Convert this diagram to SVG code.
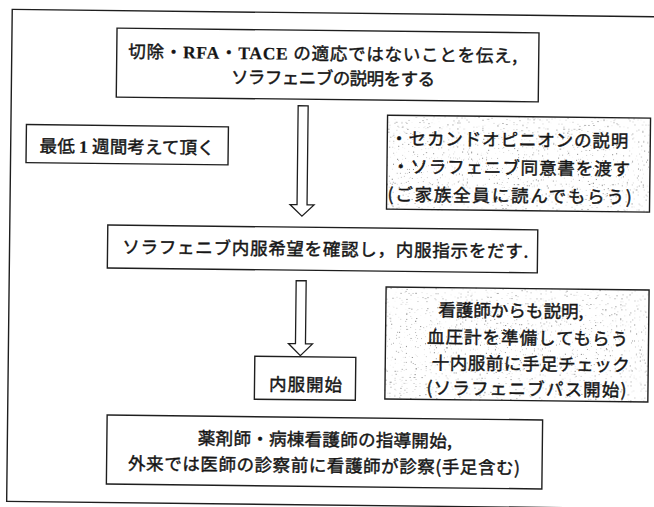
<svg xmlns="http://www.w3.org/2000/svg" width="654" height="507" viewBox="0 0 654 507">
<style>
 .box{fill:#fff;stroke:#1e1e1e;stroke-width:1.4}
 .shade{stroke:none}
 .sbox{fill:none;stroke:#1e1e1e;stroke-width:1.4}
 .frame{fill:none;stroke:#1e1e1e;stroke-width:1.4}
 .t{font-family:"Noto Sans CJK JP","Noto Sans CJK SC",sans-serif;font-size:17.5px;font-weight:normal;fill:#161616;stroke:#161616;stroke-width:0.45}
 .s{font-family:"Liberation Serif","Noto Sans CJK JP",serif;font-weight:bold;stroke-width:0.2}
 .arrow{fill:#fff;stroke:#1e1e1e;stroke-width:1.3;stroke-linejoin:miter}
</style>
<defs>
 <filter id="speckle" x="0" y="0" width="1" height="1" color-interpolation-filters="sRGB">
  <feTurbulence type="fractalNoise" baseFrequency="0.8" numOctaves="2" seed="7" result="n"/>
  <feColorMatrix in="n" type="matrix" values="0 0 0 0 0.5  0 0 0 0 0.5  0 0 0 0 0.5  9 0 0 0 -6.1" result="d"/>
  <feComposite in="d" in2="SourceGraphic" operator="over"/>
 </filter>
</defs>
<rect width="654" height="507" fill="#fff"/>
<g transform="rotate(0.65 327 253)">
 <rect class="frame" x="9.5" y="13" width="660" height="492"/>
 <g id="connectors">
  <path class="arrow" d="M296.5,106 H306.5 V205 H313.5 L301.5,216.5 L289.5,205 H296.5 Z"/>
  <path class="arrow" d="M296.5,281 H306.5 V344 H313.5 L301.5,356 L289.5,344 H296.5 Z"/>
 </g>
 <g id="n1">
  <rect class="box" x="114.5" y="30.5" width="422" height="69"/>
  <text class="t" x="126" y="60" textLength="389" lengthAdjust="spacing">切除・<tspan class="s">RFA</tspan>・<tspan class="s">TACE</tspan> の適応ではないことを伝え,</text>
  <text class="t" x="229" y="84.5" textLength="204" lengthAdjust="spacing">ソラフェニブの説明をする</text>
 </g>
 <g id="n2">
  <rect class="box" x="25" y="128" width="202" height="38"/>
  <text class="t" x="38.5" y="155.5" textLength="175" lengthAdjust="spacing">最低 <tspan class="s">1</tspan> 週間考えて頂く</text>
 </g>
 <g id="n3">
  <rect class="shade" x="386" y="114.5" width="263" height="94" fill="#fff" filter="url(#speckle)"/>
  <rect class="sbox" x="386" y="114.5" width="263" height="94"/>
  <text class="t" x="389" y="144" textLength="238" lengthAdjust="spacing">・セカンドオピニオンの説明</text>
  <text class="t" x="391" y="172" textLength="238" lengthAdjust="spacing">・ソラフェニブ同意書を渡す</text>
  <text class="t" x="387" y="200" textLength="244" lengthAdjust="spacing">(ご家族全員に読んでもらう)</text>
 </g>
 <g id="n4">
  <rect class="box" x="107.5" y="227.5" width="430" height="43"/>
  <text class="t" x="122.3" y="255.5" textLength="406" lengthAdjust="spacing">ソラフェニブ内服希望を確認し，内服指示をだす.</text>
 </g>
 <g id="n5">
  <rect class="box" x="256" y="357" width="101" height="43"/>
  <text class="t" x="270.6" y="391.2" textLength="73" lengthAdjust="spacing">内服開始</text>
 </g>
 <g id="n6">
  <rect class="shade" x="386.5" y="286.3" width="263" height="112" fill="#fff" filter="url(#speckle)"/>
  <rect class="sbox" x="386.5" y="286.3" width="263" height="112"/>
  <text class="t" x="439" y="315" textLength="145" lengthAdjust="spacing">看護師からも説明,</text>
  <text class="t" x="428" y="342" textLength="201" lengthAdjust="spacing">血圧計を準備してもらう</text>
  <text class="t" x="433" y="368" textLength="198" lengthAdjust="spacing">十内服前に手足チェック</text>
  <text class="t" x="428" y="393" textLength="200" lengthAdjust="spacing">(ソラフェニブパス開始)</text>
 </g>
 <g id="n7">
  <rect class="box" x="109" y="417.5" width="435.5" height="69"/>
  <text class="t" x="200" y="446" textLength="254" lengthAdjust="spacing">薬剤師・病棟看護師の指導開始,</text>
  <text class="t" x="130.5" y="472" textLength="392" lengthAdjust="spacing">外来では医師の診察前に看護師が診察(手足含む)</text>
 </g>
</g>
</svg>
